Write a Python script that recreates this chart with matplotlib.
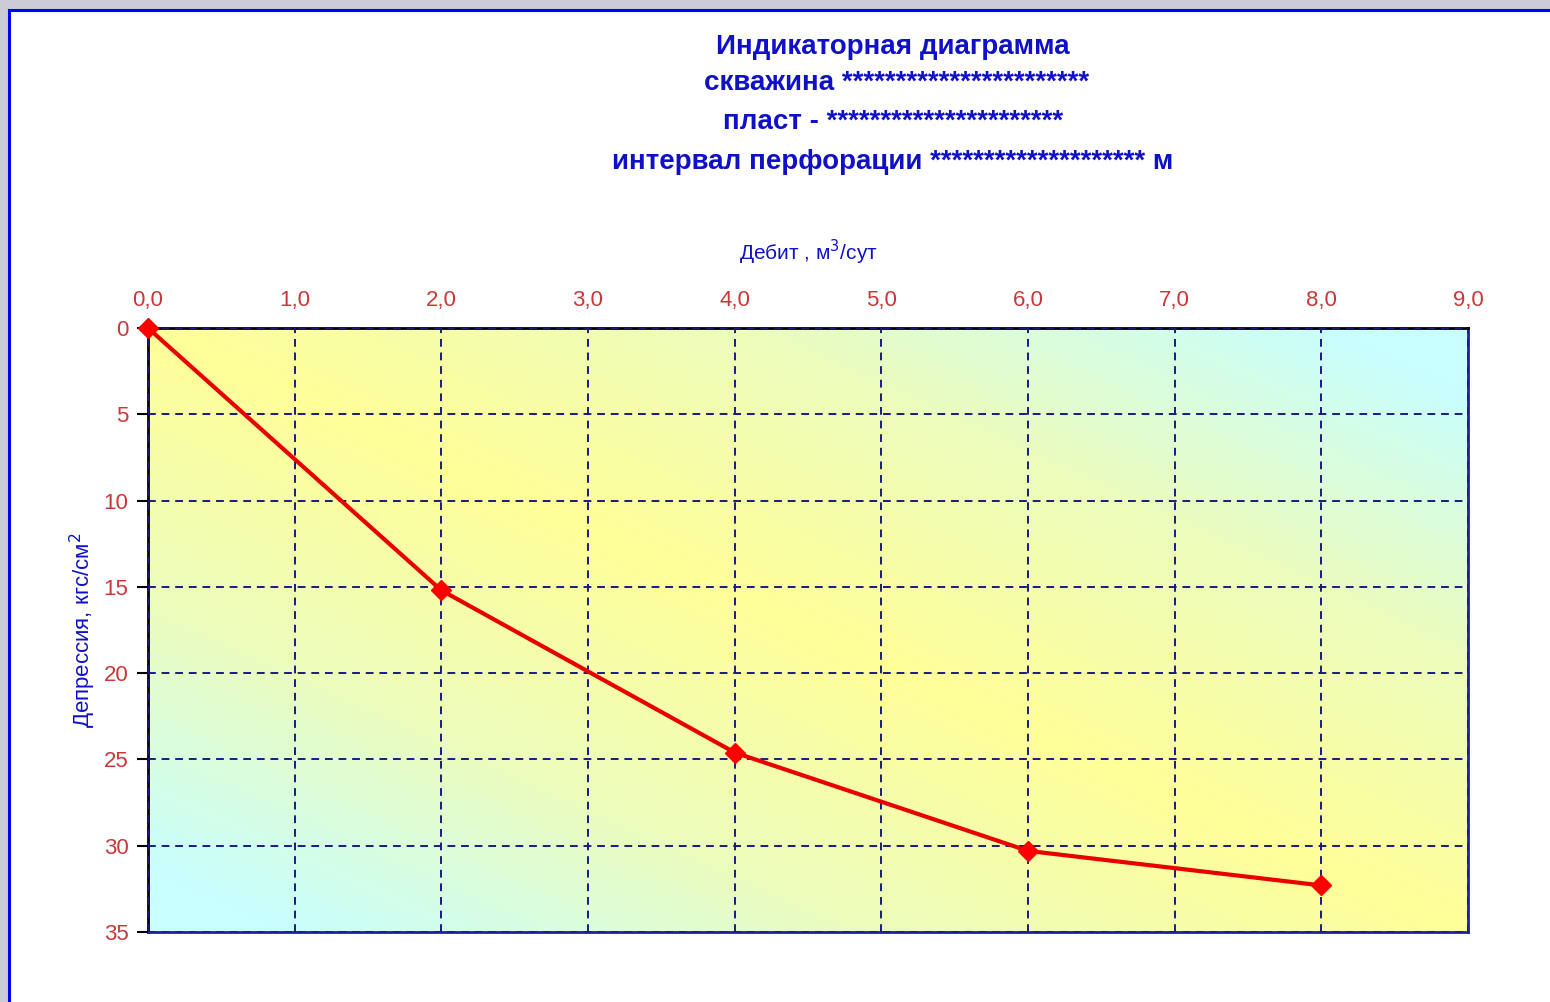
import numpy as np
import matplotlib
matplotlib.use("Agg")
import matplotlib.pyplot as plt
from matplotlib.colors import LinearSegmentedColormap
from matplotlib.patches import Rectangle

# data
debit = [0, 2, 4, 6, 8]
depression = [0, 15.2, 24.6, 30.3, 32.3]
x_ticks = [0, 1, 2, 3, 4, 5, 6, 7, 8, 9]
y_ticks = [0, 5, 10, 15, 20, 25, 30, 35]

title_lines = [
    "Индикаторная диаграмма",
    "скважина " + "*" * 23,
    "пласт - " + "*" * 22,
    "интервал перфорации " + "*" * 20 + " м",
]

plt.rcParams['font.family'] = ['Liberation Sans', 'DejaVu Sans']

BLUE = "#1010c8"
TICK_RED = "#c83838"
NAVY = "#1a1a80"

fig = plt.figure(figsize=(15.5, 10.02), dpi=100)
fig.patch.set_facecolor("#cbcbd5")

# white panel with blue frame
fig.patches.append(Rectangle((9 / 1550, -0.01), 1.02, 1 - 10 / 1002 + 0.01,
                             transform=fig.transFigure, facecolor="white",
                             edgecolor="#0000ff", linewidth=2.2, zorder=-5))

ax = fig.add_axes([148 / 1550, 1 - 932 / 1002, 1320 / 1550, 604 / 1002])
ax.set_zorder(5)

# background gradient: yellow along the main diagonal, cyan at the other corners
nx, ny = 400, 200
xn = np.linspace(0, 1, nx)[None, :]
yn = np.linspace(0, 1, ny)[:, None]
t = np.abs(xn - yn)
cmap = LinearSegmentedColormap.from_list("yc", ["#ffff99", "#ecfcbc", "#c8ffff"])
ax.imshow(t, cmap=cmap, extent=[0, 9, 35, 0], aspect="auto", zorder=0,
          interpolation="bilinear", vmin=0, vmax=0.9)

ax.plot(debit, depression, color="#e80000", linewidth=3, marker="D",
        markersize=10, markerfacecolor="#ff0000", markeredgecolor="#ff0000",
        zorder=3, clip_on=False)

ax.set_xlim(0, 9)
ax.set_ylim(35, 0)
ax.set_xticks(x_ticks)
ax.set_yticks(y_ticks)
ax.set_xticklabels([f"{v:.1f}".replace(".", ",") for v in x_ticks])
ax.set_yticklabels([str(v) for v in y_ticks])

ax.xaxis.tick_top()
ax.xaxis.set_label_position("top")
ax.tick_params(axis="x", colors="black", labelcolor=TICK_RED, labelsize=16,
               length=0, pad=12)
ax.tick_params(axis="y", colors="black", labelcolor=TICK_RED, labelsize=16,
               length=8, width=1.5, direction="out", pad=6)

ax.grid(True, color=NAVY, linestyle=(0, (4, 3)), linewidth=1.4, zorder=1)
ax.set_axisbelow(False)

ax.spines["top"].set_color("black")
ax.spines["left"].set_color("black")
ax.spines["bottom"].set_color("#2020a0")
ax.spines["right"].set_color("#2020a0")
for s in ax.spines.values():
    s.set_linewidth(2)

ax.set_xlabel("Дебит , м$^3$/сут", color=BLUE, fontsize=15, labelpad=22)
ax.set_ylabel("Депрессия, кгс/см$^2$", color=BLUE, fontsize=16, labelpad=4)

# title block
ys = [47, 83, 122, 162]
xs = [893, 897, 893, 893]
for line, x, y in zip(title_lines, xs, ys):
    fig.text(x / 1550, 1 - y / 1002, line, ha="center", va="center",
             color=BLUE, fontsize=20, fontweight="bold")

fig.savefig("out.png", dpi=100, facecolor=fig.get_facecolor())
